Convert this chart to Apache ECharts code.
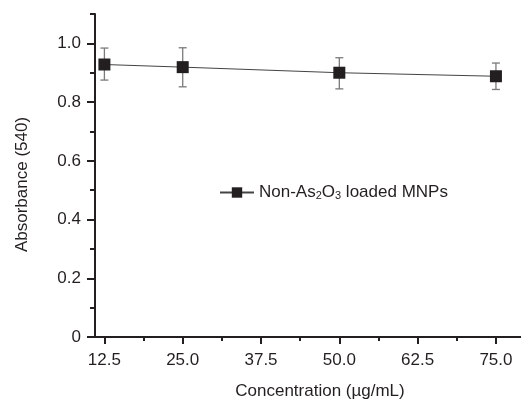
<!DOCTYPE html>
<html>
<head>
<meta charset="utf-8">
<script src="https://cdn.jsdelivr.net/npm/echarts@6/dist/echarts.min.js"></script>
<style>html,body{margin:0;padding:0;background:#fff}#c{width:521px;height:400px}</style>
</head>
<body>
<div id="c"></div>
<script>
const concentrations = [12.5, 25, 50, 75];
const absorbance = [0.928, 0.919, 0.900, 0.888];
const errUpper = [0.984, 0.985, 0.951, 0.933];
const errLower = [0.875, 0.852, 0.845, 0.843];
const xTicks = [12.5, 25, 37.5, 50, 62.5, 75];
const xMinorTicks = [18.75, 31.25, 43.75, 56.25, 68.75];
const yTicks = [0, 0.2, 0.4, 0.6, 0.8, 1.0];
const yMinorTicks = [0.1, 0.3, 0.5, 0.7, 0.9, 1.1];
const seriesName = 'Non-As2O3 loaded MNPs';

const ink = '#231f20';
const font = 'Liberation Sans, Arial, sans-serif';

const chart = echarts.init(document.getElementById('c'), null, {renderer: 'canvas'});
const option = {
  animation: false,
  backgroundColor: '#fff',
  grid: {left: 95, right: 0, top: 14, bottom: 63, containLabel: false, outerBoundsMode: 'none'},
  legend: {
    data: [seriesName],
    left: 214, top: 179,
    itemWidth: 34, itemHeight: 13, itemGap: 5,
    formatter: () => 'Non-As{sub|2}O{sub|3} loaded MNPs',
    textStyle: {
      color: ink, fontSize: 17, fontFamily: font,
      rich: {sub: {fontSize: 11, fontFamily: font, color: ink, verticalAlign: 'bottom', padding: [7, 0, 0, 0]}}
    }
  },
  xAxis: [{
    type: 'value', min: 11, max: 79,
    name: 'Concentration (µg/mL)', nameLocation: 'middle', nameGap: 46,
    nameTextStyle: {color: ink, fontSize: 17, fontFamily: font, padding: [0, 0, 0, 24]},
    axisLine: {onZero: false, lineStyle: {color: ink, width: 2}},
    axisTick: {show: true, inside: false, length: 7, customValues: xTicks, lineStyle: {color: ink, width: 2}},
    axisLabel: {customValues: xTicks, margin: 15, color: ink, fontSize: 17, fontFamily: font,
      formatter: v => v.toFixed(1)},
    splitLine: {show: false}
  }, {
    type: 'value', min: 11, max: 79, position: 'bottom',
    axisLine: {show: false, onZero: false},
    axisTick: {show: true, length: 4, customValues: xMinorTicks, lineStyle: {color: ink, width: 2}},
    axisLabel: {show: false},
    splitLine: {show: false}
  }],
  yAxis: [{
    type: 'value', min: 0, max: 1.1,
    name: 'Absorbance (540)', nameLocation: 'middle', nameGap: 64, nameRotate: 90,
    nameTextStyle: {color: ink, fontSize: 17, fontFamily: font, padding: [0, 18, 0, 0]},
    axisLine: {show: true, onZero: false, lineStyle: {color: ink, width: 2}},
    axisTick: {show: true, length: 8, customValues: yTicks, lineStyle: {color: ink, width: 2}},
    axisLabel: {customValues: yTicks, margin: 14, color: ink, fontSize: 17, fontFamily: font,
      formatter: v => v === 0 ? '0' : v.toFixed(1)},
    splitLine: {show: false}
  }, {
    type: 'value', min: 0, max: 1.1, position: 'left',
    axisLine: {show: false, onZero: false},
    axisTick: {show: true, length: 5, customValues: yMinorTicks, lineStyle: {color: ink, width: 2}},
    axisLabel: {show: false},
    splitLine: {show: false}
  }],
  series: [{
    type: 'custom',
    name: 'err',
    z: 1,
    data: concentrations.map((c, i) => [c, errLower[i], errUpper[i]]),
    renderItem: (params, api) => {
      const lo = api.coord([api.value(0), api.value(1)]);
      const hi = api.coord([api.value(0), api.value(2)]);
      const w = 4;
      const style = {stroke: '#7a7a7a', lineWidth: 1.3};
      return {type: 'group', children: [
        {type: 'line', shape: {x1: lo[0], y1: lo[1], x2: hi[0], y2: hi[1]}, style},
        {type: 'line', shape: {x1: lo[0] - w, y1: lo[1], x2: lo[0] + w, y2: lo[1]}, style},
        {type: 'line', shape: {x1: hi[0] - w, y1: hi[1], x2: hi[0] + w, y2: hi[1]}, style}
      ]};
    }
  }, {
    type: 'line',
    name: seriesName,
    z: 3,
    data: concentrations.map((c, i) => [c, absorbance[i]]),
    symbol: 'rect', symbolSize: 12,
    itemStyle: {color: ink},
    lineStyle: {color: '#444', width: 1}
  }]
};
chart.setOption(option);
</script>
</body>
</html>
